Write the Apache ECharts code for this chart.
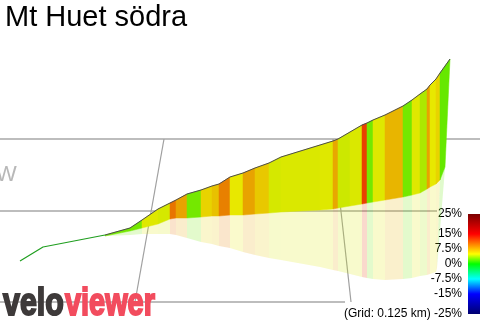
<!DOCTYPE html>
<html><head><meta charset="utf-8">
<script src="https://cdn.jsdelivr.net/npm/echarts@6/dist/echarts.min.js"></script>
<style>html,body{margin:0;padding:0;background:#fff}#c{width:480px;height:321px}</style>
</head><body><div id="c"></div>
<script>
// ---- data (chart units: x along projected route, y = projected height, downward) ----
const title = 'Mt Huet södra';
const compass = 'W';
const leadX = [20, 43, 105];
const leadY = [261, 247, 235];
const dist  = [105,130,142,158,170,176,187,201,212,219,230,243,255,269,281,320,333,338,350,362,367,373,385,403,412,420,427,430,436,440,450];
const topY  = [235,228,220,209,203,200,194,190,186,184,177,173,168,163,157,145,141,139,132,125,123,120,115,106,100, 94, 89, 85, 79, 73, 59];
const baseX = [105,130,142,158,170,176,187,201,212,219,230,243,255,269,281,320,333,338,350,362,367,373,385,403,412,420,427,430,436,440,445];
const baseY = [236,231,228,224,219,218,218,217,216,216,215,215,214,213,212,210,209,208,206,204,203,202,200,197,195,193,189,187,184,180,167];
const shadeX= [105,130,142,158,170,176,187,201,212,219,230,243,255,269,281,320,333,338,350,362,367,373,385,403,412,420,427,430,436,437,445];
const shadeY= [236,235,234,234,234,235,238,242,244,246,248,252,255,258,260,267,270,271,274,277,278,279,280,279,278,276,275,274,272,268,168];
const grade = [2.5,2.5,4.8,4.6,10,8,2.5,5.9,6.7,9.5,5,8,6.4,4.6,4.7,4.8,7.8,4.4,4.7,12.2,2.5,4.8,7.2,2.5,4.8,3.7,8,5,5.9,2.2];
const tickValues = [25, 15, 7.5, 0, -7.5, -15, -25];
const gridNote = '(Grid: 0.125 km)';
const gridLines = [
  [[0,139],[480,139]],
  [[0,211],[437,211]],
  [[0,302],[345,302]],
  [[164,139],[135,302]],
  [[333,139],[351,302]]
];
// ---- colour scale ----
const cmap = [[25,[122,0,0]],[15,[255,0,0]],[10,[255,128,0]],[5,[255,255,0]],[0,[0,255,0]],[-7.5,[0,255,255]],[-15,[0,0,255]],[-25,[0,0,112]]];
function gradColor(g, k){
  g = Math.max(-25, Math.min(25, g));
  for (let i=0;i<cmap.length-1;i++){
    const [a,ca]=cmap[i],[b,cb]=cmap[i+1];
    if (g<=a && g>=b){
      const t=(a-g)/(a-b);
      const c=ca.map((v,j)=>Math.round((v+(cb[j]-v)*t)*k));
      return 'rgb('+c.join(',')+')';
    }
  }
  return '#000';
}
const chart = echarts.init(document.getElementById('c'), null, {renderer:'canvas'});
const strips = grade.map((g,i)=>[dist[i], topY[i]]);
const FONT = '"Liberation Sans", Arial, sans-serif';
chart.setOption({
  animation:false,
  grid:[{left:0,right:0,top:0,bottom:0},{left:468,top:214,width:12,height:100}],
  xAxis:[{type:'value',min:0,max:480,show:false},{type:'value',min:0,max:1,show:false,gridIndex:1}],
  yAxis:[{type:'value',min:0,max:321,inverse:true,show:false},
    {type:'value',gridIndex:1,min:-25,max:25,position:'left',
     axisLine:{show:false},axisTick:{show:false},splitLine:{show:false},
     axisLabel:{show:true,customValues:tickValues,margin:6,color:'#000',fontSize:12,fontFamily:FONT,
       formatter:v=> v===-25 ? gridNote+' -25%' : v+'%'}}],
  graphic:[
    {type:'text',left:5,top:3,style:{text:title,font:'29px '+FONT,fill:'#000'}},
    {type:'text',x:-4,y:175,style:{text:compass,font:'22px '+FONT,fill:'#b8b8b8',verticalAlign:'middle'},z:1},
    {type:'text',x:3,y:305,scaleX:0.8,style:{text:'velo',font:'bold 38px '+FONT,fill:'#3e3a3a',stroke:'#3e3a3a',lineWidth:2,verticalAlign:'middle'},z:10},
    {type:'text',x:65,y:305,scaleX:0.76,style:{text:'viewer',font:'bold 38px '+FONT,fill:'#f24c5e',stroke:'#f24c5e',lineWidth:2,verticalAlign:'middle'},z:10}
  ],
  series:[
    {type:'custom',z:1,data:gridLines.map(l=>l[0]),
     renderItem:(p,api)=>{const l=gridLines[p.dataIndex];const a=api.coord(l[0]),b=api.coord(l[1]);
       const slant = l[0][0]!==l[1][0] && l[0][1]!==l[1][1];
       return {type:'line',shape:{x1:a[0],y1:a[1],x2:b[0],y2:b[1]},
         style:{stroke: slant?'#a0a0a0':'#bdbdbd',lineWidth: slant?1.2:2}};}},
    {type:'custom',z:2,data:strips,
     renderItem:(p,api)=>{const i=p.dataIndex;
       const pts=[api.coord([baseX[i],baseY[i]]),api.coord([baseX[i+1],baseY[i+1]]),api.coord([shadeX[i+1],shadeY[i+1]]),api.coord([shadeX[i],shadeY[i]])];
       return {type:'polygon',shape:{points:pts},style:{fill:gradColor(grade[i],0.91),opacity:0.2}};}},
    {type:'custom',z:3,data:strips,
     renderItem:(p,api)=>{const i=p.dataIndex;const col=gradColor(grade[i],0.91);
       const pts=[api.coord([dist[i],topY[i]]),api.coord([dist[i+1],topY[i+1]]),api.coord([baseX[i+1],baseY[i+1]]),api.coord([baseX[i],baseY[i]])];
       return {type:'polygon',shape:{points:pts},style:{fill:col,stroke:col,lineWidth:0.5}};}},
    {type:'line',z:4,data:dist.map((x,i)=>[x,topY[i]]),symbol:'none',lineStyle:{color:'#4a4a4a',width:1}},
    {type:'line',z:4,data:leadX.map((x,i)=>[x,leadY[i]]),symbol:'none',lineStyle:{color:'#1f9e1f',width:1.2}},
    {type:'custom',xAxisIndex:1,yAxisIndex:1,z:5,data:[[0,0]],
     renderItem:(p,api)=>{const a=api.coord([0,25]),b=api.coord([1,-25]);
       const stops=cmap.map(([v,c])=>({offset:(25-v)/50,color:'rgb('+c.join(',')+')'}));
       return {type:'rect',shape:{x:a[0],y:a[1],width:b[0]-a[0],height:b[1]-a[1]},
         style:{fill:new echarts.graphic.LinearGradient(0,0,0,1,stops)}};}}
  ]
});
</script></body></html>
